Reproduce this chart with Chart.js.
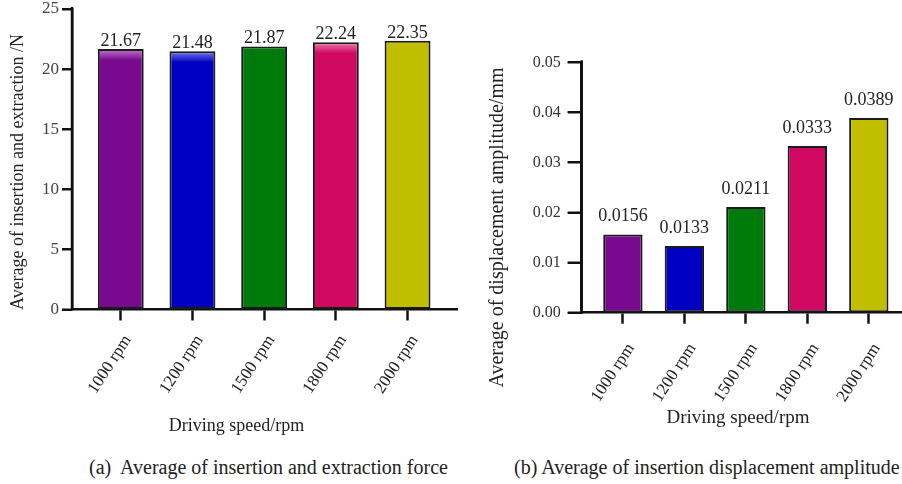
<!DOCTYPE html>
<html><head><meta charset="utf-8">
<script src="https://cdn.jsdelivr.net/npm/chart.js@4"></script>
<style>
html,body{margin:0;padding:0;background:#fff;width:902px;height:484px;overflow:hidden;}
.box{position:absolute;top:0;}
#wa{left:0;width:460px;height:440px;}
#wb{left:460px;width:442px;height:440px;}
.cap{position:absolute;top:455px;font-family:'Liberation Serif','Times New Roman',serif;font-size:20px;color:#222;white-space:pre;line-height:24px}
</style></head><body>
<div class="box" id="wa"><canvas id="ca" width="460" height="440"></canvas></div>
<div class="box" id="wb"><canvas id="cb" width="442" height="440"></canvas></div>
<div class="cap" style="left:89px">(a)  Average of insertion and extraction force</div>
<div class="cap" style="left:514px">(b) Average of insertion displacement amplitude</div>
<script>
const categories = ['1000 rpm', '1200 rpm', '1500 rpm', '1800 rpm', '2000 rpm'];
const forceValues = [21.67, 21.48, 21.87, 22.24, 22.35];
const amplitudeValues = [0.0156, 0.0133, 0.0211, 0.0333, 0.0389];
const barColors = ['#790a90', '#0000c2', '#007a0a', '#cf0962', '#c1be00'];
const glossColors = ['#c27ccf', '#7a7aee', null, '#ee80ae', null];
const forceTicks = [0, 5, 10, 15, 20, 25];
const amplitudeTicks = [0, 0.01, 0.02, 0.03, 0.04, 0.05];
const xTitle = 'Driving speed/rpm';
const forceYTitle = 'Average of insertion and extraction /N';
const amplitudeYTitle = 'Average of displacement amplitude/mm';

const FAMILY = "'Liberation Serif', 'Times New Roman', serif";

const decor = {
  id: 'decor',
  beforeDatasetsDraw(chart, args, o) {
    const ctx = chart.ctx, y = chart.scales.y, area = chart.chartArea;
    ctx.save();
    ctx.strokeStyle = '#111';
    ctx.lineWidth = 2.5;
    ctx.beginPath();
    ctx.moveTo(area.left, area.top - 2);
    ctx.lineTo(area.left, area.bottom + 1);
    ctx.stroke();
    ctx.lineWidth = 2;
    y.ticks.forEach(t => {
      const py = Math.round(y.getPixelForValue(t.value));
      ctx.beginPath();
      ctx.moveTo(area.left - o.yTick, py);
      ctx.lineTo(area.left, py);
      ctx.stroke();
    });
    ctx.restore();
  },
  afterDatasetsDraw(chart, args, o) {
    const ctx = chart.ctx;
    const ds = chart.data.datasets[0];
    const meta = chart.getDatasetMeta(0);
    ctx.save();
    ctx.fillStyle = o.color;
    ctx.font = o.valueSize + 'px ' + FAMILY;
    ctx.textAlign = 'center';
    ctx.textBaseline = 'middle';
    meta.data.forEach((bar, i) => {
      ctx.fillText(ds.data[i].y.toFixed(o.digits), bar.x, bar.y - o.valueGap);
    });
    ctx.font = o.xTitleSize + 'px ' + FAMILY;
    ctx.fillText(o.xTitle, o.xTitleX, o.xTitleY);
    ctx.translate(o.yTitleX, o.yTitleY);
    ctx.rotate(-Math.PI / 2);
    ctx.font = o.yTitleSize + 'px ' + FAMILY;
    ctx.fillText(o.yTitle, 0, 0);
    ctx.restore();
  }
};

function build(id, values, yTicks, c) {
  return new Chart(document.getElementById(id), {
    type: 'bar',
    data: {
      datasets: [{
        data: values.map((v, i) => ({x: i, y: v})),
        backgroundColor: (ctx) => {
          const i = ctx.dataIndex;
          const base = barColors[i];
          if (!c.gloss || ctx.type !== 'data' || !glossColors[i]) return base;
          const ch = ctx.chart;
          const ys = ch.scales && ch.scales.y;
          if (!ys) return base;
          const top = ys.getPixelForValue(values[i]);
          if (!Number.isFinite(top)) return base;
          const g = ch.ctx.createLinearGradient(0, top, 0, top + 11);
          g.addColorStop(0, glossColors[i]);
          g.addColorStop(1, base);
          return g;
        },
        borderColor: '#1a1a1a',
        borderWidth: 2,
        borderSkipped: false,
        barPercentage: 0.64,
        categoryPercentage: 1
      }]
    },
    options: {
      responsive: false,
      animation: false,
      devicePixelRatio: 1,
      layout: {padding: c.padding},
      plugins: {legend: {display: false}, tooltip: {enabled: false}, decor: c.decor},
      scales: {
        x: {
          type: 'linear', min: c.xMin, max: c.xMax, offset: false,
          afterFit: s => { s.height = c.xH; s.paddingLeft = 0; s.paddingRight = 0; },
          afterBuildTicks: s => { s.ticks = categories.map((n, i) => ({value: i})); },
          border: {display: true, color: '#111', width: 2.5},
          grid: {offset: false, drawOnChartArea: false, drawTicks: true, tickLength: 11, tickWidth: 2.5, color: '#111'},
          ticks: {autoSkip: false, minRotation: 57, maxRotation: 57, padding: c.xPad, labelOffset: c.xShift,
            font: {family: FAMILY, size: 17}, color: '#222',
            callback: v => categories[v] ?? ''}
        },
        y: {
          min: yTicks[0], max: yTicks[yTicks.length - 1],
          afterFit: s => { s.width = c.yW; s.paddingTop = 0; s.paddingBottom = 0; },
          afterBuildTicks: s => { s.ticks = yTicks.map(v => ({value: v})); },
          border: {display: true, color: '#111', width: 2.5},
          grid: {drawOnChartArea: false, tickLength: c.decor.yTick, tickWidth: 2, color: '#111'},
          ticks: {padding: c.yPad, font: {family: FAMILY, size: c.yFont}, color: c.yColor,
            callback: v => v.toFixed(c.yDigits)}
        }
      }
    },
    plugins: [decor]
  });
}

build('ca', forceValues, forceTicks, {
  gloss: true,
  padding: {top: 9, right: 3, left: 0, bottom: 0},
  xMin: -0.68, xMax: 4.69, xH: 130.5, xPad: 11, xShift: 7,
  yW: 72, yPad: 3, yFont: 17, yColor: '#444', yDigits: 0,
  decor: {color: '#222', valueSize: 18, digits: 2, valueGap: 8, yTick: 10,
    xTitle: xTitle, xTitleSize: 18, xTitleX: 236.5, xTitleY: 426.7,
    yTitle: forceYTitle, yTitleSize: 18, yTitleX: 18, yTitleY: 172}
});

build('cb', amplitudeValues, amplitudeTicks, {
  gloss: false,
  padding: {top: 62.3, right: 0, left: 0, bottom: 0},
  xMin: -0.67, xMax: 4.54, xH: 127.3, xPad: 16, xShift: 8,
  yW: 121.7, yPad: 7, yFont: 16, yColor: '#333', yDigits: 2,
  decor: {color: '#222', valueSize: 18, digits: 4, valueGap: 18, yTick: 14,
    xTitle: xTitle, xTitleSize: 19, xTitleX: 278, xTitleY: 418,
    yTitle: amplitudeYTitle, yTitleSize: 20, yTitleX: 38, yTitleY: 227.5}
});
</script>
</body></html>
